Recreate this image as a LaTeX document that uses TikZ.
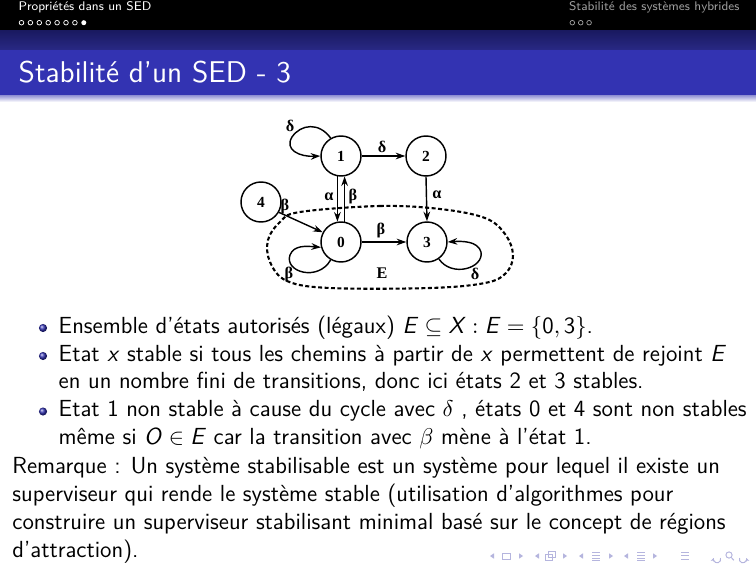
\documentclass[tikz,border=0pt]{standalone}
\usepackage{fontspec}
\usetikzlibrary{arrows.meta}
\newfontfamily\diagfont{Liberation Serif}
\definecolor{barblue}{rgb}{0.2,0.2,0.7}
\definecolor{navc}{rgb}{0.71,0.71,0.87}
\definecolor{inactive}{rgb}{0.62,0.62,0.62}
\tikzset{
  state/.style={circle, draw, line width=0.7pt, minimum size=19.2pt, inner sep=0pt,
    font=\diagfont\bfseries\fontsize{7.4pt}{8pt}\selectfont},
  edge/.style={line width=0.68pt, -{Stealth[length=4.6pt,width=3.2pt]}},
  elabel/.style={font=\diagfont\bfseries\fontsize{7.8pt}{9pt}\selectfont, inner sep=0pt},
  hdr/.style={anchor=base west, inner sep=0pt, font=\sffamily\fontsize{6pt}{7pt}\selectfont},
  body/.style={anchor=base west, inner sep=0pt, font=\sffamily\fontsize{11.17pt}{13.6pt}\selectfont},
  ball/.style={circle, inner sep=0pt, minimum size=3.9pt, shading=ball, ball color=barblue},
  navtri/.style={fill=navc},
  navln/.style={draw=navc, line width=0.45pt},
}
\newcommand{\mvar}[1]{\mbox{\textit{#1}}}
\begin{document}
\begin{tikzpicture}[x=0.48pt, y=-0.48pt]
\useasboundingbox (0,0) rectangle (756,567);
\fill[white] (0,0) rectangle (756,567);

% headline with section navigation
\fill[black] (0,0) rectangle (756,31);
\node[hdr, text=white] (secA) at (18.3,10.8) {Propriétés dans un SED};
\node[hdr, text=inactive] (secB) at (568.7,10.8) {Stabilité des systèmes hybrides};
\foreach \i in {0,...,6} {
  \draw[white, line width=0.35pt] (21.5+\i*8.9,22.7) circle (2.3);
}
\fill[white] (21.5+7*8.9,22.7) circle (2.5);
\foreach \i in {0,1,2} {
  \draw[inactive, line width=0.35pt] (572.3+\i*8.4,22.7) circle (2.3);
}

% frame title bar
\shade[top color={rgb,1:red,0.1;green,0.1;blue,0.38}, bottom color={rgb,1:red,0.16;green,0.16;blue,0.52}] (0,31) rectangle (756,50);
\fill[barblue] (0,50) rectangle (756,96);
\shade[top color={rgb,1:red,0.62;green,0.62;blue,0.85}, bottom color=white] (0,96) rectangle (756,102);
\node[anchor=base west, inner sep=0pt, text=white, font=\sffamily\fontsize{14.4pt}{17pt}\selectfont] (title) at (18.3,82.5) {Stabilité d’un SED - 3};

% automaton
\node[state] (n1) at (341,156) {1};
\node[state] (n2) at (426,156) {2};
\node[state] (n4) at (261,202) {4};
\node[state] (n0) at (341,242) {0};
\node[state] (n3) at (427,242) {3};

\draw[line width=1pt, dash pattern=on 1.9pt off 1.2pt]
  plot[smooth cycle, tension=0.6] coordinates {
    (300,212) (380,206) (440,209) (485,218) (505,234) (513,255) (506,273)
    (485,283) (430,288) (330,288) (287,281) (270,262) (268,240) (280,222)};

\draw[edge] (n1.120) .. controls (319,122) and (301,124) .. (292,137)
  .. controls (284,150) and (300,157) .. (n1.west);
\draw[edge] (n1.east) -- (n2.west);
\draw[edge] (n2.south) -- (n3.north);
\draw[edge] (n1.260) -- (n0.100);
\draw[edge] (n0.80) -- (n1.280);
\draw[edge] (n4.-30) -- (n0.152);
\draw[edge] (n0.0) -- (n3.180);
\draw[edge] (n0.240) .. controls (318,282) and (284,272) .. (290,255)
  .. controls (294,245) and (306,246) .. (n0.195);
\draw[edge] (n3.-55) .. controls (452,278) and (484,268) .. (481,252)
  .. controls (478,241) and (462,241) .. (n3.east);

\node[elabel] (l11) at (290,126) {δ};
\node[elabel] (l12) at (382,147) {δ};
\node[elabel] (l23) at (437,195) {α};
\node[elabel] (l10) at (329,197) {α};
\node[elabel] (l01) at (353,197) {β};
\node[elabel] (l40) at (285,207) {β};
\node[elabel] (l00) at (289,275) {β};
\node[elabel] (l03) at (381,231) {β};
\node[elabel] (l33) at (475,274) {δ};
\node[elabel] (lE) at (382,273) {E};

% itemized text
\node[ball] (b1) at (43,328) {};
\node[ball] (b2) at (43,356) {};
\node[ball] (b3) at (43,411.5) {};
\node[body] (t1) at (58.3,333) {Ensemble d’états autorisés (légaux) $\mvar{E}\subseteq\mvar{X}:\mvar{E}=\{\mbox{0},\mbox{3}\}$.};
\node[body] (t2) at (58.3,361) {Etat \mvar{x} stable si tous les chemins à partir de \mvar{x} permettent de rejoint \mvar{E}};
\node[body] (t3) at (58.3,388.5) {en un nombre fini de transitions, donc ici états 2 et 3 stables.};
\node[body] (t4) at (58.3,416.5) {Etat 1 non stable à cause du cycle avec $\delta$ , états 0 et 4 sont non stables};
\node[body] (t5) at (58.3,444) {même si $\mvar{O}\in\mvar{E}$ car la transition avec $\beta$ mène à l’état 1.};
\node[body] (r1) at (12,473) {Remarque : Un système stabilisable est un système pour lequel il existe un};
\node[body] (r2) at (12,501) {superviseur qui rende le système stable (utilisation d’algorithmes pour};
\node[body] (r3) at (12,529) {construire un superviseur stabilisant minimal basé sur le concept de régions};
\node[body] (r4) at (12,557) {d’attraction).};

% navigation symbols
\fill[navtri] (490,556) -- (494,553.3) -- (494,558.7) -- cycle;
\draw[navln] (502,553) rectangle (510,559);
\fill[navtri] (523,556) -- (519,553.3) -- (519,558.7) -- cycle;
\fill[navtri] (535,556) -- (539,553.3) -- (539,558.7) -- cycle;
\draw[navln] (545,554) rectangle (552,560);
\draw[navln] (548,551) rectangle (555,557);
\fill[navtri] (567,556) -- (563,553.3) -- (563,558.7) -- cycle;
\fill[navtri] (579,556) -- (583,553.3) -- (583,558.7) -- cycle;
\draw[navln] (592,552) -- (600,552) (592,555) -- (600,555) (592,558) -- (600,558) (592,560.5) -- (600,560.5);
\fill[navtri] (613,556) -- (609,553.3) -- (609,558.7) -- cycle;
\fill[navtri] (624,556) -- (628,553.3) -- (628,558.7) -- cycle;
\draw[navln] (637,552) -- (645,552) (637,555) -- (645,555) (637,558) -- (645,558) (637,560.5) -- (645,560.5);
\fill[navtri] (657,556) -- (653,553.3) -- (653,558.7) -- cycle;
\draw[navln] (681,552) -- (689,552) (681,555.5) -- (689,555.5) (681,559) -- (689,559);
\draw[navln, -{Stealth[length=1.8pt,width=1.8pt]}] (720.5,558) arc (-20:200:3.6);
\draw[navln] (729,555) circle (3.1);
\draw[navln] (731.2,557.5) -- (733.8,560.2);
\draw[navln, -{Stealth[length=1.8pt,width=1.8pt]}] (739.5,558) arc (200:-20:3.6);
\end{tikzpicture}
\end{document}
